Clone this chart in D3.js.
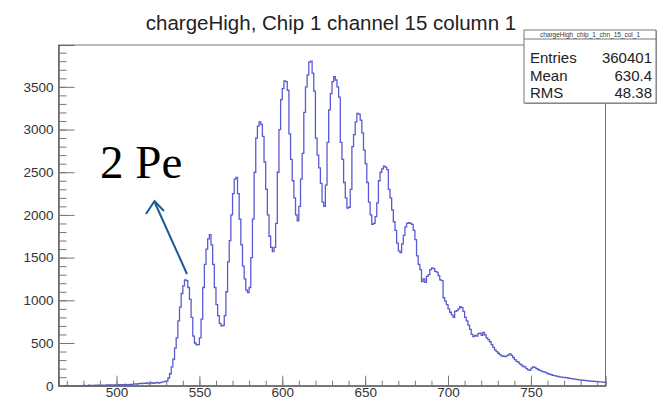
<!DOCTYPE html>
<html>
<head>
<meta charset="utf-8">
<script src="https://cdn.jsdelivr.net/npm/d3@7"></script>
<style>
  body { margin: 0; background: #fff; }
</style>
</head>
<body>
<svg width="664" height="400"></svg>
<script>
// histogram: first bin edge and counts per unit-wide bin (465 .. 795)
var binStart = 465;
var counts = [
  0,0,0,0,0, 0,0,0,0,0, 0,0,0,0,0,
  3,0,2,5,0,4,2,6,3,5,
  4,7,3,6,8,5,9,6,10,8,
  7,11,9,12,8,14,10,13,15,12,
  18,22,20,25,28,24,30,27,32,26,
  30,35,28,33,38,30,36,42,45,50,
  55,90,140,220,310,440,560,760,920,1080,
  1170,1240,1230,1150,1010,800,580,500,478,480,
  560,780,1150,1420,1600,1720,1770,1650,1420,1150,
  950,820,730,700,705,820,1100,1450,1700,2000,
  2250,2420,2440,2250,1950,1650,1400,1250,1120,1090,
  1150,1500,1950,2500,2900,3040,3090,3060,2920,2620,
  2300,2000,1750,1620,1570,1620,1900,2500,3000,3350,
  3480,3570,3560,3460,2950,2650,2400,2200,2000,1930,
  2100,2420,2720,3200,3500,3640,3790,3800,3660,3450,
  2900,2700,2550,2370,2150,2100,2350,2850,3230,3420,
  3560,3620,3580,3500,3380,2850,2650,2380,2200,2080,
  2090,2300,2800,2940,3090,3190,3180,3110,2960,2760,
  2600,2380,2150,2000,1890,1900,1980,2140,2400,2500,
  2540,2570,2560,2530,2300,2200,2060,1920,1820,1670,
  1580,1560,1660,1760,1860,1900,1910,1900,1890,1820,
  1710,1520,1420,1360,1220,1250,1210,1280,1300,1360,
  1380,1370,1340,1330,1290,1240,1230,1030,990,950,
  900,860,830,800,870,880,900,925,915,870,
  800,760,710,660,600,575,590,580,610,615,
  590,625,595,560,540,515,480,450,420,400,
  380,365,350,345,340,350,360,372,355,330,
  305,285,275,255,240,225,220,200,185,180,
  205,220,215,200,190,180,170,165,160,150,
  140,135,128,120,117,112,108,104,100,98,
  96,94,90,86,82,80,76,73,70,68,
  66,64,62,60,57,55,53,52,50,48,
  47,45,44,42,40
];
var xTicks = [500, 550, 600, 650, 700, 750];
var yTicks = [0, 500, 1000, 1500, 2000, 2500, 3000, 3500];
var titleText = "chargeHigh, Chip 1 channel 15 column 1";
var statName = "chargeHigh_chip_1_chn_15_col_1";
var statLabels = ["Entries", "Mean", "RMS"];
var statValues = ["360401", "630.4", "48.38"];
var noteText = "2 Pe";

var sans = "'Liberation Sans', Arial, sans-serif";
var svg = d3.select("svg");
var padL = 58.5, padR = 605.5, padT = 45, padB = 385.7;

var x = d3.scaleLinear().domain([465, 795]).range([padL, padR]);
var y = d3.scaleLinear().domain([0, 3990]).range([padB, padT]);

// title
svg.append("text")
  .attr("x", 331).attr("y", 30)
  .attr("text-anchor", "middle")
  .style("font-family", sans)
  .style("font-size", "20.5px")
  .attr("fill", "#222")
  .text(titleText);

// frame
svg.append("rect")
  .attr("x", padL).attr("y", padT)
  .attr("width", padR - padL).attr("height", padB - padT)
  .attr("fill", "none").attr("stroke", "#777").attr("stroke-width", 1);

// histogram outline
var pts = counts.map(function(c, i) { return [binStart + i, c]; });
pts.push([binStart + counts.length, counts[counts.length - 1]]);
var line = d3.line()
  .x(function(d) { return x(d[0]); })
  .y(function(d) { return y(d[1]); })
  .curve(d3.curveStepAfter);

svg.append("clipPath").attr("id", "clip")
  .append("rect").attr("x", padL).attr("y", padT)
  .attr("width", padR - padL).attr("height", padB - padT + 1);

svg.append("path")
  .datum(pts)
  .attr("clip-path", "url(#clip)")
  .attr("d", line)
  .attr("fill", "none")
  .attr("stroke", "#5a5ad2")
  .attr("stroke-width", 1.3);

// axes: ticks point inward like ROOT
var xMinor = svg.append("g").attr("transform", "translate(0," + padB + ")")
  .call(d3.axisBottom(x).tickValues(d3.range(470, 795, 10)).tickSize(-5).tickFormat(""));
var xMajor = svg.append("g").attr("transform", "translate(0," + padB + ")")
  .call(d3.axisBottom(x).tickValues(xTicks).tickSize(-10).tickPadding(2));
var yMinor = svg.append("g").attr("transform", "translate(" + padL + ",0)")
  .call(d3.axisLeft(y).tickValues(d3.range(0, 3990, 100)).tickSize(-8).tickFormat(""));
var yMajor = svg.append("g").attr("transform", "translate(" + padL + ",0)")
  .call(d3.axisLeft(y).tickValues(yTicks).tickSize(-16).tickPadding(5).tickFormat(d3.format("d")));

[xMinor, xMajor, yMinor, yMajor].forEach(function(g) {
  g.select(".domain").attr("stroke", "#666");
  g.selectAll(".tick line").attr("stroke", "#777");
  g.selectAll(".tick text")
    .attr("fill", "#333")
    .style("font-size", "13.5px")
    .style("font-family", sans);
});

// stats box
var bx = 524, by = 30, bw = 132, bh = 73;
svg.append("rect").attr("x", bx + 1).attr("y", by + 1)
  .attr("width", bw).attr("height", bh).attr("fill", "#999");
svg.append("rect").attr("x", bx).attr("y", by)
  .attr("width", bw).attr("height", bh)
  .attr("fill", "#fff").attr("stroke", "#777");
svg.append("line").attr("x1", bx).attr("x2", bx + bw)
  .attr("y1", by + 9).attr("y2", by + 9).attr("stroke", "#777");
svg.append("text").attr("x", bx + bw / 2).attr("y", by + 7)
  .attr("text-anchor", "middle").attr("fill", "#333")
  .style("font-family", sans).style("font-size", "6.5px")
  .text(statName);
statLabels.forEach(function(s, i) {
  var yy = 63 + i * 17.5;
  svg.append("text").attr("x", bx + 6).attr("y", yy)
    .attr("fill", "#222")
    .style("font-family", sans).style("font-size", "15px")
    .text(s);
  svg.append("text").attr("x", bx + bw - 4).attr("y", yy)
    .attr("text-anchor", "end").attr("fill", "#222")
    .style("font-family", sans).style("font-size", "15px")
    .text(statValues[i]);
});

// annotation
svg.append("text").attr("x", 100).attr("y", 178)
  .attr("fill", "#000")
  .style("font-family", "'Liberation Serif', 'DejaVu Serif', serif")
  .style("font-size", "47px")
  .text(noteText);

var arrowColor = "#1b5a96";
svg.append("line").attr("x1", 187).attr("y1", 274).attr("x2", 155).attr("y2", 203)
  .attr("stroke", arrowColor).attr("stroke-width", 2);
svg.append("path")
  .attr("d", "M146,214 L154.5,201 L164,211")
  .attr("fill", "none").attr("stroke", arrowColor).attr("stroke-width", 2);
</script>
</body>
</html>
